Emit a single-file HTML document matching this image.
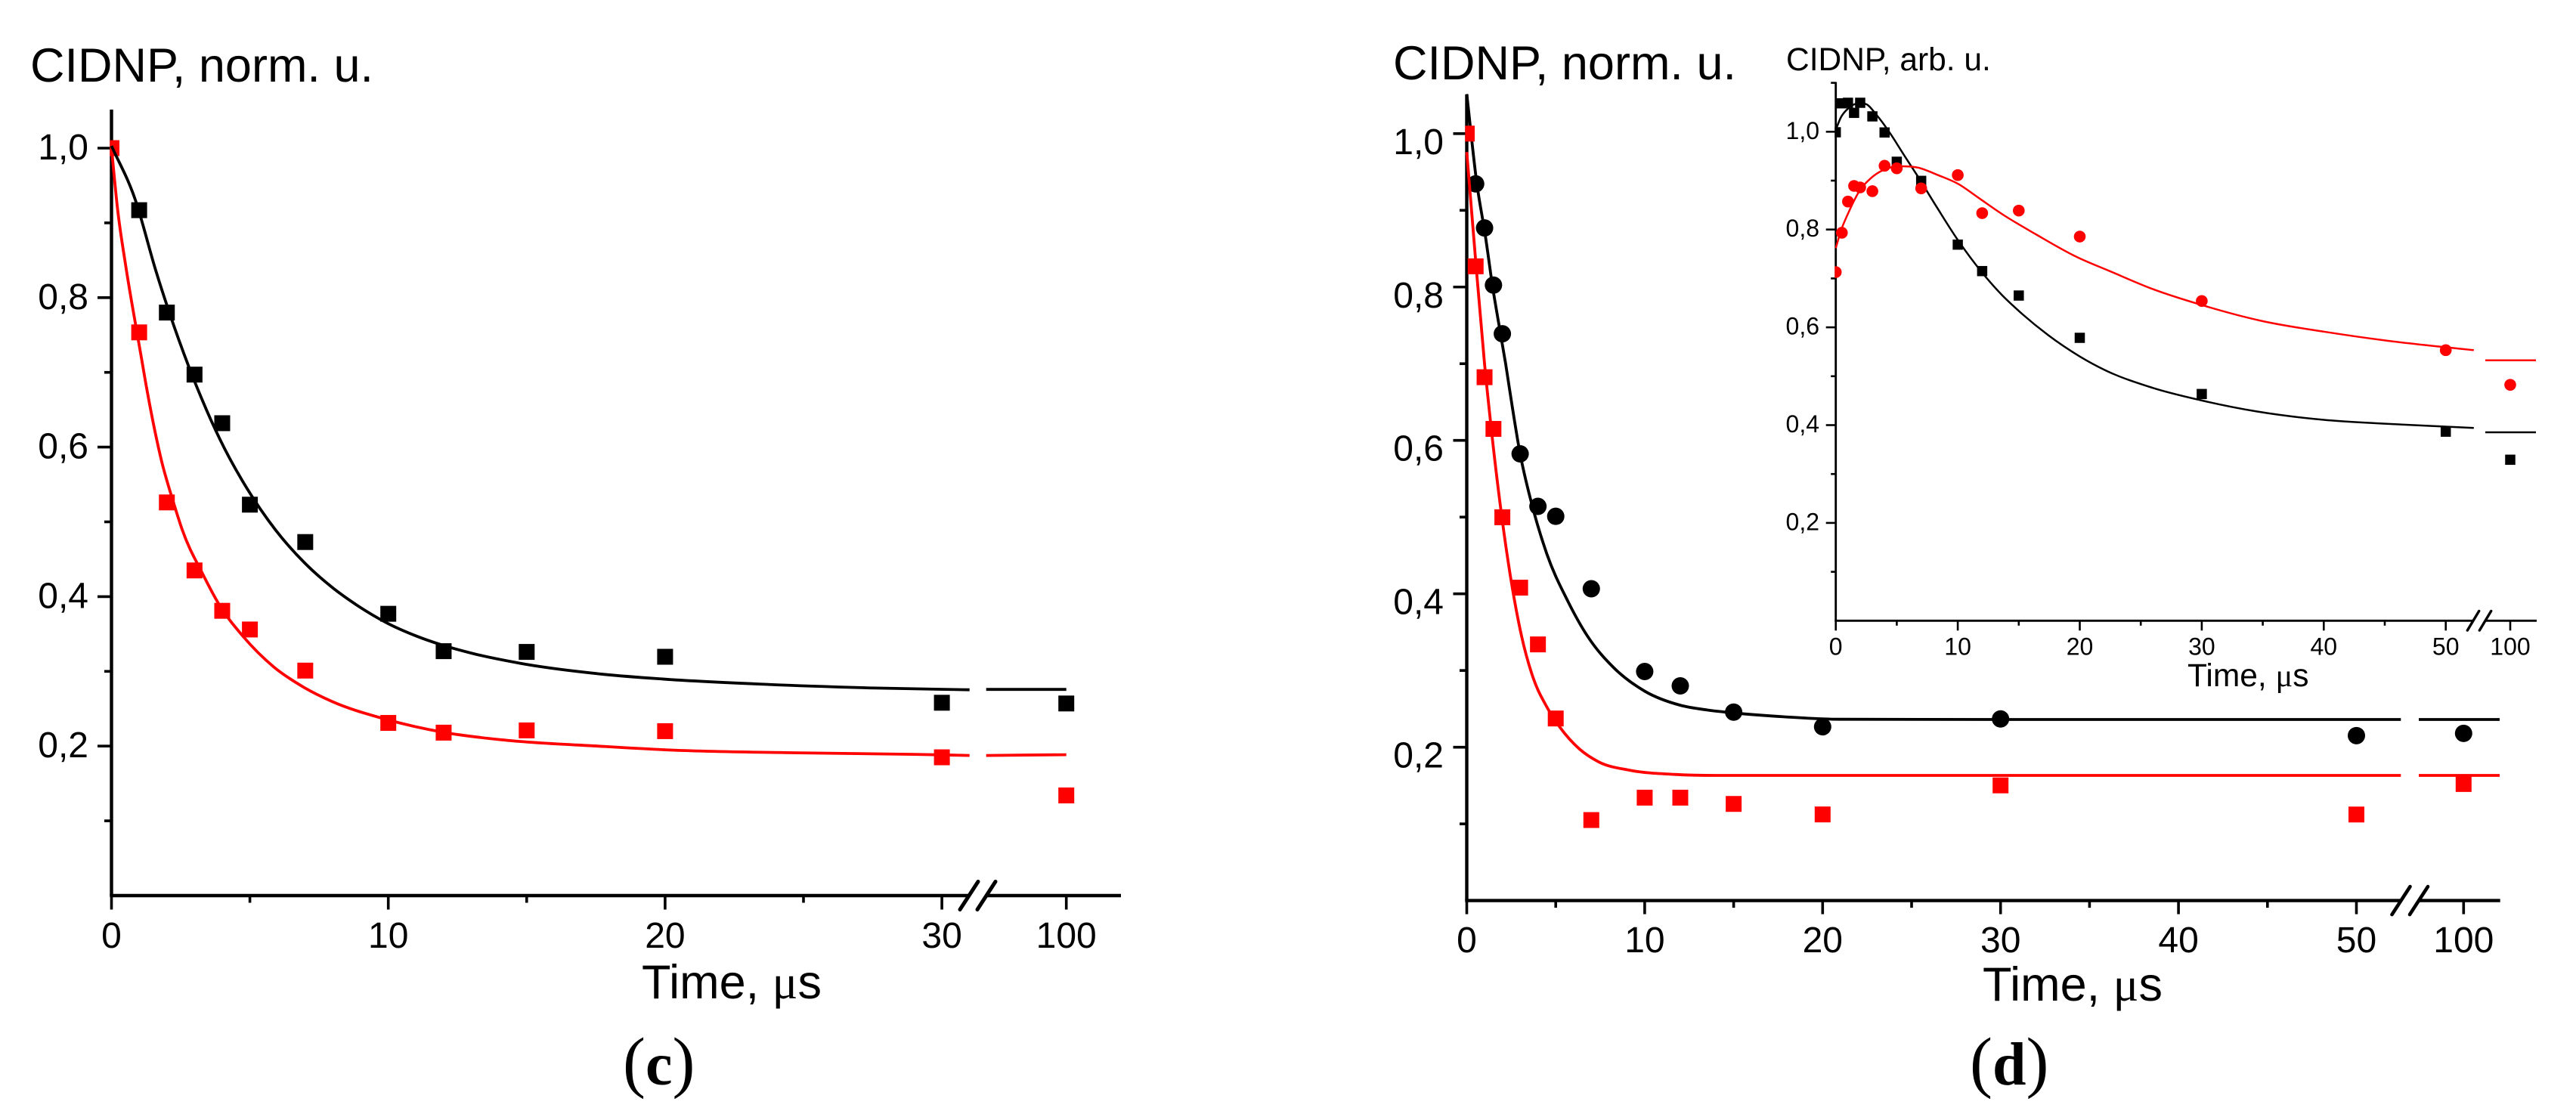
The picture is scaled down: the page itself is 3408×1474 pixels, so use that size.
<!DOCTYPE html>
<html lang="en">
<head>
<meta charset="utf-8">
<title>CIDNP kinetics</title>
<style>
html,body{margin:0;padding:0;background:#fff;width:3408px;height:1474px;overflow:hidden}
svg{display:block}
text{font-family:"Liberation Sans",sans-serif;fill:#000}
.serif{font-family:"Liberation Serif",serif}
</style>
</head>
<body>
<svg id="figure" xmlns="http://www.w3.org/2000/svg" width="3408" height="1474" viewBox="0 0 3408 1474">
<rect width="3408" height="1474" fill="#fff"/>
<text x="40" y="108" font-size="63">CIDNP, norm. u.</text>
<text x="849" y="1321" font-size="63">Time, <tspan class="serif">μ</tspan>s</text>
<text class="serif" x="824" y="1435" font-size="90">(<tspan class="serif" font-weight="bold" font-size="80">c</tspan>)</text>
<text x="1843" y="105" font-size="63">CIDNP, norm. u.</text>
<text x="2623" y="1324" font-size="63">Time, <tspan class="serif">μ</tspan>s</text>
<text class="serif" x="2606" y="1435" font-size="90">(<tspan class="serif" font-weight="bold" font-size="80">d</tspan>)</text>
<text x="2363" y="93" font-size="42.5">CIDNP, arb. u.</text>
<text x="2894" y="908" font-size="42.5">Time, <tspan class="serif">μ</tspan>s</text>
</svg>
<script>
/* ---------- tick values ---------- */
const yMajorTicks = [1.0, 0.8, 0.6, 0.4, 0.2];
const yMajorLabels = ["1,0", "0,8", "0,6", "0,4", "0,2"];
const yMinorTicks = [0.9, 0.7, 0.5, 0.3, 0.1];
const insetYMinorTicks = [1.1, 0.9, 0.7, 0.5, 0.3, 0.1];

const cXMajorTicks = [0, 10, 20, 30, 100];
const cXMajorLabels = ["0", "10", "20", "30", "100"];
const cXMinorTicks = [5, 15, 25];

const dXMajorTicks = [0, 10, 20, 30, 40, 50, 100];
const dXMajorLabels = ["0", "10", "20", "30", "40", "50", "100"];
const dXMinorTicks = [5, 15, 25, 35, 45];

/* ---------- panel (c) ---------- */
const cTimes = [1, 2, 3, 4, 5, 7, 10, 12, 15, 20, 30, 100];
const cBlackValues = [0.917, 0.780, 0.697, 0.632, 0.523, 0.473, 0.377, 0.327, 0.326, 0.3195, 0.258, 0.257];
const cRedTimes = [0, 1, 2, 3, 4, 5, 7, 10, 12, 15, 20, 30, 100];
const cRedValues = [1.0, 0.7535, 0.526, 0.435, 0.381, 0.356, 0.301, 0.231, 0.218, 0.221, 0.220, 0.185, 0.134];

const cBlackFitTimes = [0, 0.85, 1.61, 2.1, 2.8, 3.29, 3.91, 4.89, 5.93, 6.98, 7.95, 8.93, 9.9, 11.03, 12, 13.1, 14.78, 17.8, 20, 23.4, 27.6, 31];
const cBlackFitValues = [1.003, 0.932, 0.835, 0.779, 0.707, 0.662, 0.611, 0.545, 0.489, 0.445, 0.413, 0.387, 0.3657, 0.347, 0.3346, 0.3235, 0.3107, 0.296, 0.2895, 0.283, 0.2777, 0.2753];
const cBlackTailTimes = [47, 100];
const cBlackTailValues = [0.2758, 0.2758];

const cRedFitTimes = [0, 0.22, 0.5, 0.78, 1.06, 1.27, 1.82, 2.24, 2.55, 3.3, 3.91, 4.75, 5.86, 6.98, 7.95, 9.9, 12, 14.1, 17.8, 20, 24.8, 29, 31];
const cRedFitValues = [1.0, 0.918, 0.846, 0.783, 0.724, 0.679, 0.58, 0.526, 0.49, 0.43, 0.388, 0.347, 0.306, 0.278, 0.26, 0.236, 0.2184, 0.2084, 0.1995, 0.195, 0.191, 0.189, 0.1875];
const cRedTailTimes = [47, 100];
const cRedTailValues = [0.1875, 0.1885];

/* ---------- panel (d) main ---------- */
const dBlackTimes = [0.5, 1, 1.5, 2, 3, 4, 5, 7, 10, 12, 15, 20, 30, 50, 100];
const dBlackValues = [0.9345, 0.877, 0.8025, 0.739, 0.5825, 0.514, 0.501, 0.4066, 0.2987, 0.280, 0.2457, 0.2266, 0.2368, 0.2151, 0.218];
const dRedTimes = [0, 0.5, 1, 1.5, 2, 3, 4, 5, 7, 10, 12, 15, 20, 30, 50, 100];
const dRedValues = [1.0, 0.827, 0.6824, 0.615, 0.4998, 0.408, 0.334, 0.2374, 0.105, 0.1342, 0.1342, 0.126, 0.1123, 0.1502, 0.1122, 0.152];

const dBlackFitTimes = [0, 0.57, 1.05, 1.48, 1.8, 2.19, 2.57, 2.98, 3.7, 4.5, 5.69, 6.78, 8.29, 10.02, 11.98, 13.5, 15, 17.8, 20.9, 30, 52.5];
const dBlackFitValues = [1.0515, 0.9345, 0.866, 0.796, 0.752, 0.699, 0.642, 0.585, 0.513, 0.452, 0.39, 0.345, 0.303, 0.2728, 0.2548, 0.2485, 0.2447, 0.2397, 0.2364, 0.2361, 0.2361];
const dBlackTailTimes = [70.35, 123.85];
const dBlackTailValues = [0.2361, 0.2361];

const dRedFitTimes = [0, 0.48, 1, 1.48, 2, 2.44, 3.09, 3.74, 4.5, 5.25, 6.34, 7.4, 9.15, 11.7, 14, 30, 52.5];
const dRedFitValues = [0.976, 0.84, 0.7, 0.594, 0.495, 0.425, 0.344, 0.29, 0.2525, 0.2255, 0.1975, 0.181, 0.17, 0.1645, 0.1632, 0.1632, 0.1632];
const dRedTailTimes = [70.35, 123.85];
const dRedTailValues = [0.1632, 0.1632];

/* ---------- inset ---------- */
const insetTimes = [0, 0.5, 1, 1.5, 2, 3, 4, 5, 7, 10, 12, 15, 20, 30, 50, 100];
const insetBlackValues = [0.9989, 1.0581, 1.0592, 1.0386, 1.0592, 1.0314, 0.9985, 0.9386, 0.8995, 0.7691, 0.715, 0.665, 0.5785, 0.4636, 0.3866, 0.3292];
const insetRedValues = [0.713, 0.7934, 0.8572, 0.8892, 0.8861, 0.8784, 0.9304, 0.9252, 0.8841, 0.9113, 0.8335, 0.8387, 0.7856, 0.6538, 0.5533, 0.4824];

const insetBlackFitTimes = [0, 0.43, 1.03, 1.75, 2.34, 3.4, 4.47, 5.52, 6.72, 8.38, 10.03, 11.96, 13.6, 15.25, 17.4, 20, 22.1, 26, 30, 34.5, 40, 45, 52.3];
const insetBlackFitValues = [1.004, 1.0298, 1.0479, 1.0572, 1.0572, 1.0325, 0.9963, 0.9552, 0.9088, 0.8417, 0.7776, 0.713, 0.6666, 0.628, 0.5842, 0.5404, 0.512, 0.476, 0.4504, 0.428, 0.4108, 0.403, 0.3943];
const insetBlackTailTimes = [83.5, 117];
const insetBlackTailValues = [0.3853, 0.3853];

const insetRedFitTimes = [0, 0.43, 1.03, 1.98, 2.81, 3.88, 5.3, 6.72, 8.38, 10.03, 11.7, 13.8, 16.4, 19.75, 22.4, 26, 30, 34.9, 40, 45, 52.3];
const insetRedFitValues = [0.762, 0.798, 0.834, 0.8804, 0.9036, 0.9216, 0.9293, 0.9267, 0.9113, 0.8934, 0.8649, 0.8289, 0.7903, 0.7439, 0.7156, 0.678, 0.6456, 0.6131, 0.5912, 0.5733, 0.5533];
const insetRedTailTimes = [83.5, 117];
const insetRedTailValues = [0.5326, 0.5326];

/* ---------- drawing ---------- */
const svg = document.getElementById('figure');
const NS = 'http://www.w3.org/2000/svg';

function make(tag, parent, props) {
  const node = document.createElementNS(NS, tag);
  for (const key in props) node.setAttribute(key, props[key]);
  parent.appendChild(node);
  return node;
}

/* C1 cubic Hermite through the points, with limited spacing-aware tangents (no overshoot) */
function smoothPath(xs, ys) {
  const n = xs.length;
  const h = [], s = [], m = [];
  for (let i = 0; i < n - 1; i++) {
    h.push(xs[i + 1] - xs[i]);
    s.push((ys[i + 1] - ys[i]) / h[i]);
  }
  m.push(s[0]);
  for (let i = 1; i < n - 1; i++) {
    if (s[i - 1] * s[i] <= 0) {
      m.push(0);
    } else {
      const raw = (s[i - 1] * h[i] + s[i] * h[i - 1]) / (h[i - 1] + h[i]);
      const limit = 3 * Math.min(Math.abs(s[i - 1]), Math.abs(s[i]));
      m.push(Math.sign(raw) * Math.min(Math.abs(raw), limit));
    }
  }
  m.push(s[n - 2]);
  let d = 'M' + xs[0].toFixed(1) + ' ' + ys[0].toFixed(1);
  for (let i = 0; i < n - 1; i++) {
    const c1x = xs[i] + h[i] / 3, c1y = ys[i] + m[i] * h[i] / 3;
    const c2x = xs[i + 1] - h[i] / 3, c2y = ys[i + 1] - m[i + 1] * h[i] / 3;
    d += 'C' + c1x.toFixed(1) + ' ' + c1y.toFixed(1) + ' ' + c2x.toFixed(1) + ' ' + c2y.toFixed(1) + ' ' + xs[i + 1].toFixed(1) + ' ' + ys[i + 1].toFixed(1);
  }
  return d;
}

function drawAxes(p) {
  const g = make('g', svg, {});
  
  
  const line = (x1, y1, x2, y2, w, cap) => make('line', g, {x1: x1, y1: y1, x2: x2, y2: y2, stroke: '#000', 'stroke-width': w, 'stroke-linecap': cap || 'butt'});

  const yAxis = line(p.x0, p.top, p.x0, p.y(0), p.axisW);
  
  
  const xAxisA = line(p.x0 - p.axisW / 2, p.y(0), p.gapA, p.y(0), p.axisW);
  
  
  const xAxisB = line(p.gapB, p.y(0), p.xEnd, p.y(0), p.axisW);
  
  

  [p.gapA, p.gapB].forEach(function (gx) {
    const slash = line(gx - p.slashDx, p.y(0) + p.slashDy, gx + p.slashDx, p.y(0) - p.slashDy, p.slashW, 'round');
    
    
  });

  p.yMajor.forEach(function (v, i) {
    const tick = line(p.x0 - p.majorLen, p.y(v), p.x0, p.y(v), p.tickW);
    
    
    const label = make('text', g, {x: p.yLabelX, y: p.y(v) + p.yLabelDy, 'font-size': p.labelSize, 'text-anchor': 'end'});
    label.textContent = p.yLabels[i];
    
    
  });
  p.yMinor.forEach(function (v) {
    const tick = line(p.x0 - p.minorLen, p.y(v), p.x0, p.y(v), p.tickW);
    
    
  });
  p.xMajor.forEach(function (t, i) {
    const tick = line(p.x(t), p.y(0), p.x(t), p.y(0) + p.majorLen, p.tickW);
    
    
    const label = make('text', g, {x: p.x(t), y: p.xLabelY, 'font-size': p.labelSize, 'text-anchor': 'middle'});
    label.textContent = p.xLabels[i];
    
    
  });
  p.xMinor.forEach(function (t) {
    const tick = line(p.x(t), p.y(0), p.x(t), p.y(0) + p.minorLen, p.tickW);
    
    
  });
}

function drawCurve(p, times, values, color, label) {
  const xs = times.map(p.x), ys = values.map(p.y);
  const path = make('path', p.layer, {d: smoothPath(xs, ys), fill: 'none', stroke: color, 'stroke-width': p.curveW});
  
  
}

function drawSquares(p, times, values, color, label) {
  times.forEach(function (t, i) {
    const s = p.squareSize;
    const mark = make('rect', p.layer, {x: p.x(t) - s / 2, y: p.y(values[i]) - s / 2, width: s, height: s, fill: color});
    
    
  });
}

function drawCircles(p, times, values, color, label) {
  times.forEach(function (t, i) {
    const mark = make('circle', p.layer, {cx: p.x(t), cy: p.y(values[i]), r: p.circleR, fill: color});
    
    
  });
}

function setupPanel(p) {
  p.x = function (t) { return t <= p.breakT ? p.x0 + t * p.pxPerT : p.x100 + (t - 100) * 2; };
  p.y = function (v) { return p.yZero - v * p.pxPerV; };
  drawAxes(p);
  const defs = make('defs', svg, {});
  const clip = make('clipPath', defs, {id: p.name + '-clip'});
  make('rect', clip, {x: p.x0 - p.axisW / 2, y: 0, width: 3408 - p.x0, height: 1474});
  p.layer = make('g', svg, {'clip-path': 'url(#' + p.name + '-clip)'});
  
  
  return p;
}

const panelC = setupPanel({
  name: 'panel-c', x0: 147.5, pxPerT: 36.62, x100: 1410.7, breakT: 40, yZero: 1185, pxPerV: 989, top: 145,
  xEnd: 1483, gapA: 1282, gapB: 1305, slashDx: 12, slashDy: 18.5, slashW: 5, axisW: 4.4, tickW: 3.6,
  majorLen: 18.5, minorLen: 9.5, labelSize: 48, yLabelX: 117, yLabelDy: 15, xLabelY: 1254,
  yMajor: yMajorTicks, yLabels: yMajorLabels, yMinor: yMinorTicks,
  xMajor: cXMajorTicks, xLabels: cXMajorLabels, xMinor: cXMinorTicks,
  curveW: 3.8, squareSize: 21, circleR: 11.5
});
drawSquares(panelC, cRedTimes, cRedValues, '#ff0000', 'panel-c-red-point');
drawCurve(panelC, cRedFitTimes, cRedFitValues, '#ff0000', 'panel-c-red-fit');
drawCurve(panelC, cRedTailTimes, cRedTailValues, '#ff0000', 'panel-c-red-fit-tail');
drawSquares(panelC, cTimes, cBlackValues, '#000000', 'panel-c-black-point');
drawCurve(panelC, cBlackFitTimes, cBlackFitValues, '#000000', 'panel-c-black-fit');
drawCurve(panelC, cBlackTailTimes, cBlackTailValues, '#000000', 'panel-c-black-fit-tail');

const panelD = setupPanel({
  name: 'panel-d', x0: 1940.5, pxPerT: 23.54, x100: 3259.3, breakT: 60, yZero: 1191.6, pxPerV: 1014.8, top: 125,
  xEnd: 3307.7, gapA: 3176.5, gapB: 3200, slashDx: 12, slashDy: 18.5, slashW: 4.6, axisW: 4.4, tickW: 3.6,
  majorLen: 18, minorLen: 9.5, labelSize: 48, yLabelX: 1910, yLabelDy: 27, xLabelY: 1260,
  yMajor: yMajorTicks, yLabels: yMajorLabels, yMinor: yMinorTicks,
  xMajor: dXMajorTicks, xLabels: dXMajorLabels, xMinor: dXMinorTicks,
  curveW: 3.8, squareSize: 21, circleR: 11.5
});
drawCircles(panelD, dBlackTimes, dBlackValues, '#000000', 'panel-d-black-point');
drawCurve(panelD, dBlackFitTimes, dBlackFitValues, '#000000', 'panel-d-black-fit');
drawCurve(panelD, dBlackTailTimes, dBlackTailValues, '#000000', 'panel-d-black-fit-tail');
drawSquares(panelD, dRedTimes, dRedValues, '#ff0000', 'panel-d-red-point');
drawCurve(panelD, dRedFitTimes, dRedFitValues, '#ff0000', 'panel-d-red-fit');
drawCurve(panelD, dRedTailTimes, dRedTailValues, '#ff0000', 'panel-d-red-fit-tail');

const inset = setupPanel({
  name: 'inset', x0: 2428.7, pxPerT: 16.14, x100: 3321, breakT: 60, yZero: 821.3, pxPerV: 647, top: 108.5,
  xEnd: 3356, gapA: 3272, gapB: 3288, slashDx: 7.7, slashDy: 12.8, slashW: 3.4, axisW: 2.8, tickW: 2.6,
  majorLen: 13, minorLen: 6.5, labelSize: 32, yLabelX: 2407, yLabelDy: 9.5, xLabelY: 866.5,
  yMajor: yMajorTicks, yLabels: yMajorLabels, yMinor: insetYMinorTicks,
  xMajor: dXMajorTicks, xLabels: dXMajorLabels, xMinor: dXMinorTicks,
  curveW: 2.5, squareSize: 13.5, circleR: 7.8
});
drawSquares(inset, insetTimes, insetBlackValues, '#000000', 'inset-black-point');
drawCurve(inset, insetBlackFitTimes, insetBlackFitValues, '#000000', 'inset-black-fit');
drawCurve(inset, insetBlackTailTimes, insetBlackTailValues, '#000000', 'inset-black-fit-tail');
drawCircles(inset, insetTimes, insetRedValues, '#ff0000', 'inset-red-point');
drawCurve(inset, insetRedFitTimes, insetRedFitValues, '#ff0000', 'inset-red-fit');
drawCurve(inset, insetRedTailTimes, insetRedTailValues, '#ff0000', 'inset-red-fit-tail');
</script>
</body>
</html>
